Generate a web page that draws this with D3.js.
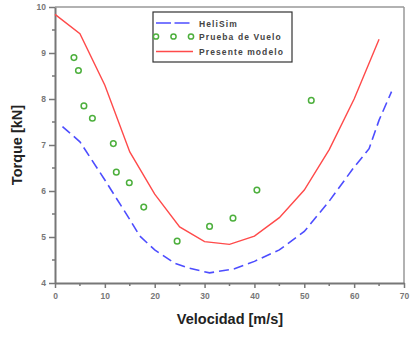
<!DOCTYPE html>
<html>
<head>
<meta charset="utf-8">
<script src="https://cdnjs.cloudflare.com/ajax/libs/d3/7.8.5/d3.min.js"></script>
<style>
  body { margin: 0; background: #fff; }
  svg text { font-family: "Liberation Sans", Arial, sans-serif; }
</style>
</head>
<body>
<div id="chart"></div>
<script>
  // Data
  var heliX = [1.5, 5, 10, 15, 17, 20, 24, 27, 31, 36, 40, 45, 50, 55, 60, 63, 65, 67.5]
  var heliY = [7.40, 7.07, 6.24, 5.38, 5.02, 4.72, 4.43, 4.32, 4.22, 4.31, 4.47, 4.72, 5.12, 5.78, 6.52, 6.92, 7.54, 8.16]

  var modelX = [0, 5, 10, 15, 20, 25, 30, 35, 40, 45, 50, 55, 60, 65]
  var modelY = [9.84, 9.42, 8.30, 6.85, 5.93, 5.22, 4.90, 4.84, 5.02, 5.42, 6.02, 6.90, 8.00, 9.30]

  var flightX = [3.8, 4.7, 5.8, 7.5, 11.7, 12.3, 14.9, 17.8, 24.5, 31.0, 35.7, 40.5, 51.4]
  var flightY = [8.90, 8.62, 7.85, 7.58, 7.03, 6.41, 6.18, 5.65, 4.91, 5.23, 5.41, 6.02, 7.97]

  var xTicks = [0, 10, 20, 30, 40, 50, 60, 70]
  var yTicks = [4, 5, 6, 7, 8, 9, 10]
  var legendNames = ['HeliSim', 'Prueba de Vuelo', 'Presente modelo'];

(function () {
  'use strict'

  var w = 415
  var h = 338
  var left = 55
  var right = 404
  var plotTop = 7
  var plotBottom = 283

  var blue = '#4d4dff'
  var red = '#ff4a4a'
  var green = '#4caf3c'

  var svg = d3.select('#chart').append('svg')
    .attr('width', w)
    .attr('height', h)

  var x = d3.scaleLinear().domain([0, 70]).range([left, right])
  var y = d3.scaleLinear().domain([4, 10]).range([plotBottom, plotTop])

  // Frame
  svg.append('line').attr('x1', left).attr('x2', right).attr('y1', plotTop).attr('y2', plotTop)
    .attr('stroke', '#999').attr('stroke-width', 1.5)
  svg.append('line').attr('x1', right).attr('x2', right).attr('y1', plotTop).attr('y2', plotBottom)
    .attr('stroke', '#999').attr('stroke-width', 1.5)

  // Minor ticks
  var yMinor = d3.range(4.5, 10, 1)
  svg.append('g').selectAll('line').data(yMinor).enter().append('line')
    .attr('x1', left - 3).attr('x2', left)
    .attr('y1', function (d) { return y(d) }).attr('y2', function (d) { return y(d) })
    .attr('stroke', '#777').attr('stroke-width', 1.5)
  var xMinor = d3.range(5, 70, 10)
  svg.append('g').selectAll('line').data(xMinor).enter().append('line')
    .attr('x1', function (d) { return x(d) }).attr('x2', function (d) { return x(d) })
    .attr('y1', plotBottom).attr('y2', plotBottom + 3)
    .attr('stroke', '#777').attr('stroke-width', 1.5)

  // Axes
  var xAxis = d3.axisBottom(x).tickValues(xTicks).tickFormat(d3.format('d'))
    .tickSize(5).tickSizeOuter(0).tickPadding(5)
  var yAxis = d3.axisLeft(y).tickValues(yTicks).tickFormat(d3.format('d'))
    .tickSize(6).tickSizeOuter(0).tickPadding(3)

  var gx = svg.append('g').attr('transform', 'translate(0,' + plotBottom + ')').call(xAxis)
  var gy = svg.append('g').attr('transform', 'translate(' + left + ',0)').call(yAxis)

  ;[gx, gy].forEach(function (g) {
    g.selectAll('path.domain').attr('stroke', '#777').attr('stroke-width', 2)
    g.selectAll('.tick line').attr('stroke', '#777').attr('stroke-width', 1.5)
    g.selectAll('.tick text').attr('fill', '#777').attr('font-size', 8.5)
      .attr('font-weight', 'bold')
  })

  // Lines
  var line = d3.line()
    .x(function (d) { return x(d[0]) })
    .y(function (d) { return y(d[1]) })

  svg.append('path')
    .datum(d3.zip(heliX, heliY))
    .attr('d', line)
    .attr('fill', 'none')
    .attr('stroke', blue)
    .attr('stroke-width', 1.6)
    .attr('stroke-dasharray', '10,5')

  svg.append('path')
    .datum(d3.zip(modelX, modelY))
    .attr('d', line)
    .attr('fill', 'none')
    .attr('stroke', red)
    .attr('stroke-width', 1.4)

  svg.append('g').selectAll('circle').data(d3.zip(flightX, flightY)).enter().append('circle')
    .attr('cx', function (d) { return x(d[0]) })
    .attr('cy', function (d) { return y(d[1]) })
    .attr('r', 2.8)
    .attr('fill', 'none')
    .attr('stroke', green)
    .attr('stroke-width', 1.5)

  // Axis titles
  svg.append('text')
    .attr('x', 230).attr('y', 324)
    .attr('text-anchor', 'middle')
    .attr('font-size', 14.5).attr('font-weight', 'bold').attr('fill', '#222')
    .text('Velocidad [m/s]')

  svg.append('text')
    .attr('transform', 'translate(22,' + ((plotTop + plotBottom) / 2) + ') rotate(-90)')
    .attr('text-anchor', 'middle')
    .attr('font-size', 14.5).attr('font-weight', 'bold').attr('fill', '#222')
    .text('Torque [kN]')

  // Legend
  var lg = svg.append('g')
  lg.append('rect')
    .attr('x', 153).attr('y', 12).attr('width', 139).attr('height', 50)
    .attr('fill', '#fff').attr('stroke', '#333').attr('stroke-width', 1.2)

  var rowY = [23, 36.5, 51.5]
  lg.append('line').attr('x1', 156).attr('x2', 193).attr('y1', rowY[0]).attr('y2', rowY[0])
    .attr('stroke', blue).attr('stroke-width', 1.4).attr('stroke-dasharray', '15,3.5')
  lg.selectAll('circle.lg').data([156, 173.5, 191]).enter().append('circle')
    .attr('cx', function (d) { return d }).attr('cy', rowY[1])
    .attr('r', 2.6).attr('fill', 'none').attr('stroke', green).attr('stroke-width', 1.5)
  lg.append('line').attr('x1', 156).attr('x2', 193).attr('y1', rowY[2]).attr('y2', rowY[2])
    .attr('stroke', red).attr('stroke-width', 1.4)

  lg.selectAll('text').data(legendNames).enter().append('text')
    .attr('x', 199)
    .attr('y', function (d, i) { return rowY[i] + 3.5 })
    .attr('font-family', '"DejaVu Sans", sans-serif')
    .attr('font-size', 8.5).attr('font-weight', 'bold').attr('fill', '#444')
    .attr('letter-spacing', 1.1)
    .text(function (d) { return d })
}())
</script>
</body>
</html>
